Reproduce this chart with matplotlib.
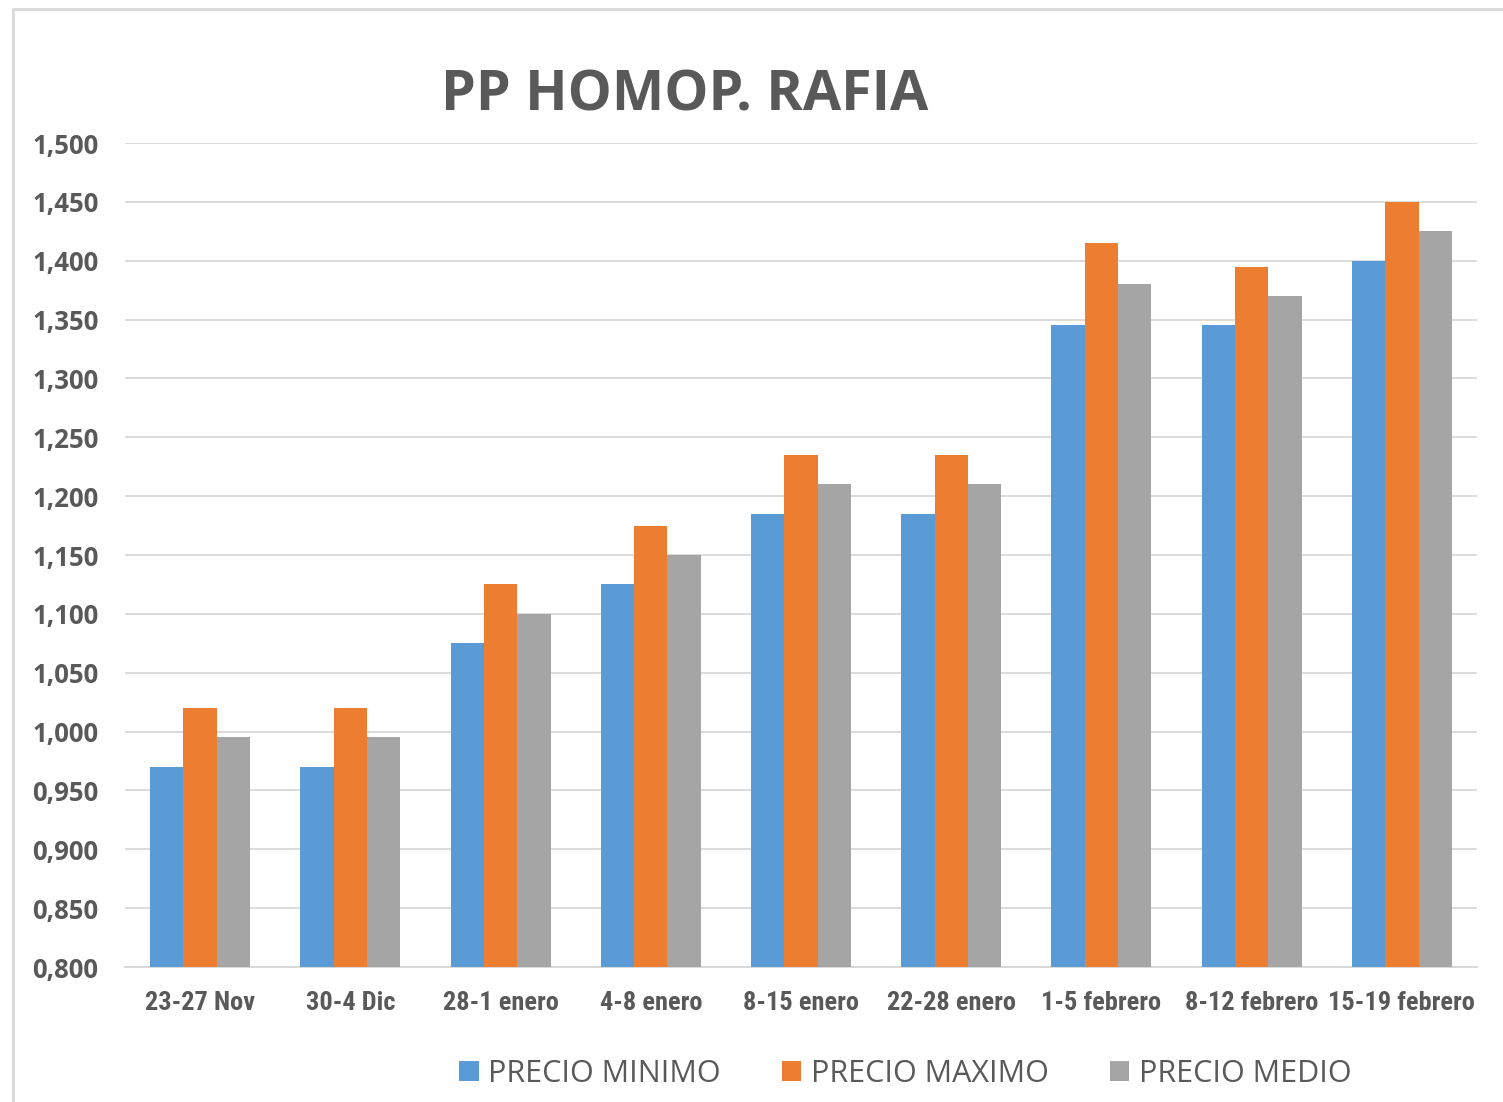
import numpy as np
import matplotlib.pyplot as plt
from matplotlib.patches import Rectangle
from matplotlib.ticker import FuncFormatter
from matplotlib import font_manager

# data
semanas = ['23-27 Nov', '30-4 Dic', '28-1 enero', '4-8 enero', '8-15 enero',
           '22-28 enero', '1-5 febrero', '8-12 febrero', '15-19 febrero']
precio_minimo = [0.970, 0.970, 1.075, 1.125, 1.185, 1.185, 1.345, 1.345, 1.400]
precio_maximo = [1.020, 1.020, 1.125, 1.175, 1.235, 1.235, 1.415, 1.395, 1.450]
precio_medio = [0.995, 0.995, 1.100, 1.150, 1.210, 1.210, 1.380, 1.370, 1.425]
series_labels = ['PRECIO MINIMO', 'PRECIO MAXIMO', 'PRECIO MEDIO']
colores = ['#5B9BD5', '#ED7D31', '#A5A5A5']

# pick a condensed font for the category labels if one is there
names = set(f.name for f in font_manager.fontManager.ttflist)
narrow = None
for cand in ['Liberation Sans Narrow', 'Roboto Condensed', 'DejaVu Sans Condensed']:
    if cand in names:
        narrow = cand
        break
textColor = '#595959'

fig = plt.figure(figsize=(15.03, 11.02), dpi=100)
W, H = 1503.0, 1102.0

# outer chart border
fig.patches.append(Rectangle((13 / W, -0.05), 1.1, (H - 9) / H + 0.05, transform=fig.transFigure,
                             fill=False, edgecolor='#D9D9D9', linewidth=2))

ax = fig.add_axes([125 / W, 1 - 967 / H, (1477 - 125) / W, (967 - 143) / H])

x = np.arange(len(semanas))
bw = 0.222
for i, (vals, col, lab) in enumerate(zip([precio_minimo, precio_maximo, precio_medio], colores, series_labels)):
    ax.bar(x + (i - 1) * bw, vals, width=bw, color=col, label=lab, zorder=3)

ax.set_ylim(0.8, 1.5)
ax.set_xlim(-0.5, len(semanas) - 0.5)
ax.set_yticks(np.arange(0.8, 1.5001, 0.05))
ax.yaxis.set_major_formatter(FuncFormatter(lambda v, p: ('%.3f' % v).replace('.', ',')))
ax.grid(axis='y', color='#D9D9D9', linewidth=1.3, zorder=0)
for s in ['top', 'right', 'left']:
    ax.spines[s].set_visible(False)
ax.spines['bottom'].set_color('#D9D9D9')
ax.spines['bottom'].set_linewidth(1.5)
ax.tick_params(axis='both', length=0)
ax.tick_params(axis='y', pad=19)
ax.tick_params(axis='x', pad=17)

ax.set_xticks(x)
if narrow is not None:
    ax.set_xticklabels(semanas, fontsize=19, fontweight='bold', family=narrow, color=textColor)
else:
    ax.set_xticklabels(semanas, fontsize=17, fontweight='bold', family='Liberation Sans',
                       color=textColor, fontstretch='condensed')
for t in ax.get_yticklabels():
    t.set_fontsize(18.5)
    t.set_fontweight('bold')
    t.set_family('Open Sans')
    t.set_color(textColor)

fig.text(685 / W, 1 - 96 / H, 'PP HOMOP. RAFIA', ha='center', va='center',
         fontsize=40, fontweight='bold', family='Open Sans', color=textColor)

leg = fig.legend(loc='center', bbox_to_anchor=(905 / W, 1 - 1074 / H), ncol=3, frameon=False,
                 prop={'family': 'Open Sans', 'size': 22}, handlelength=0.65, handleheight=0.65,
                 handletextpad=0.3, columnspacing=2.0)
for t in leg.get_texts():
    t.set_color(textColor)

plt.savefig('out.png', dpi=100)
plt.close(fig)
